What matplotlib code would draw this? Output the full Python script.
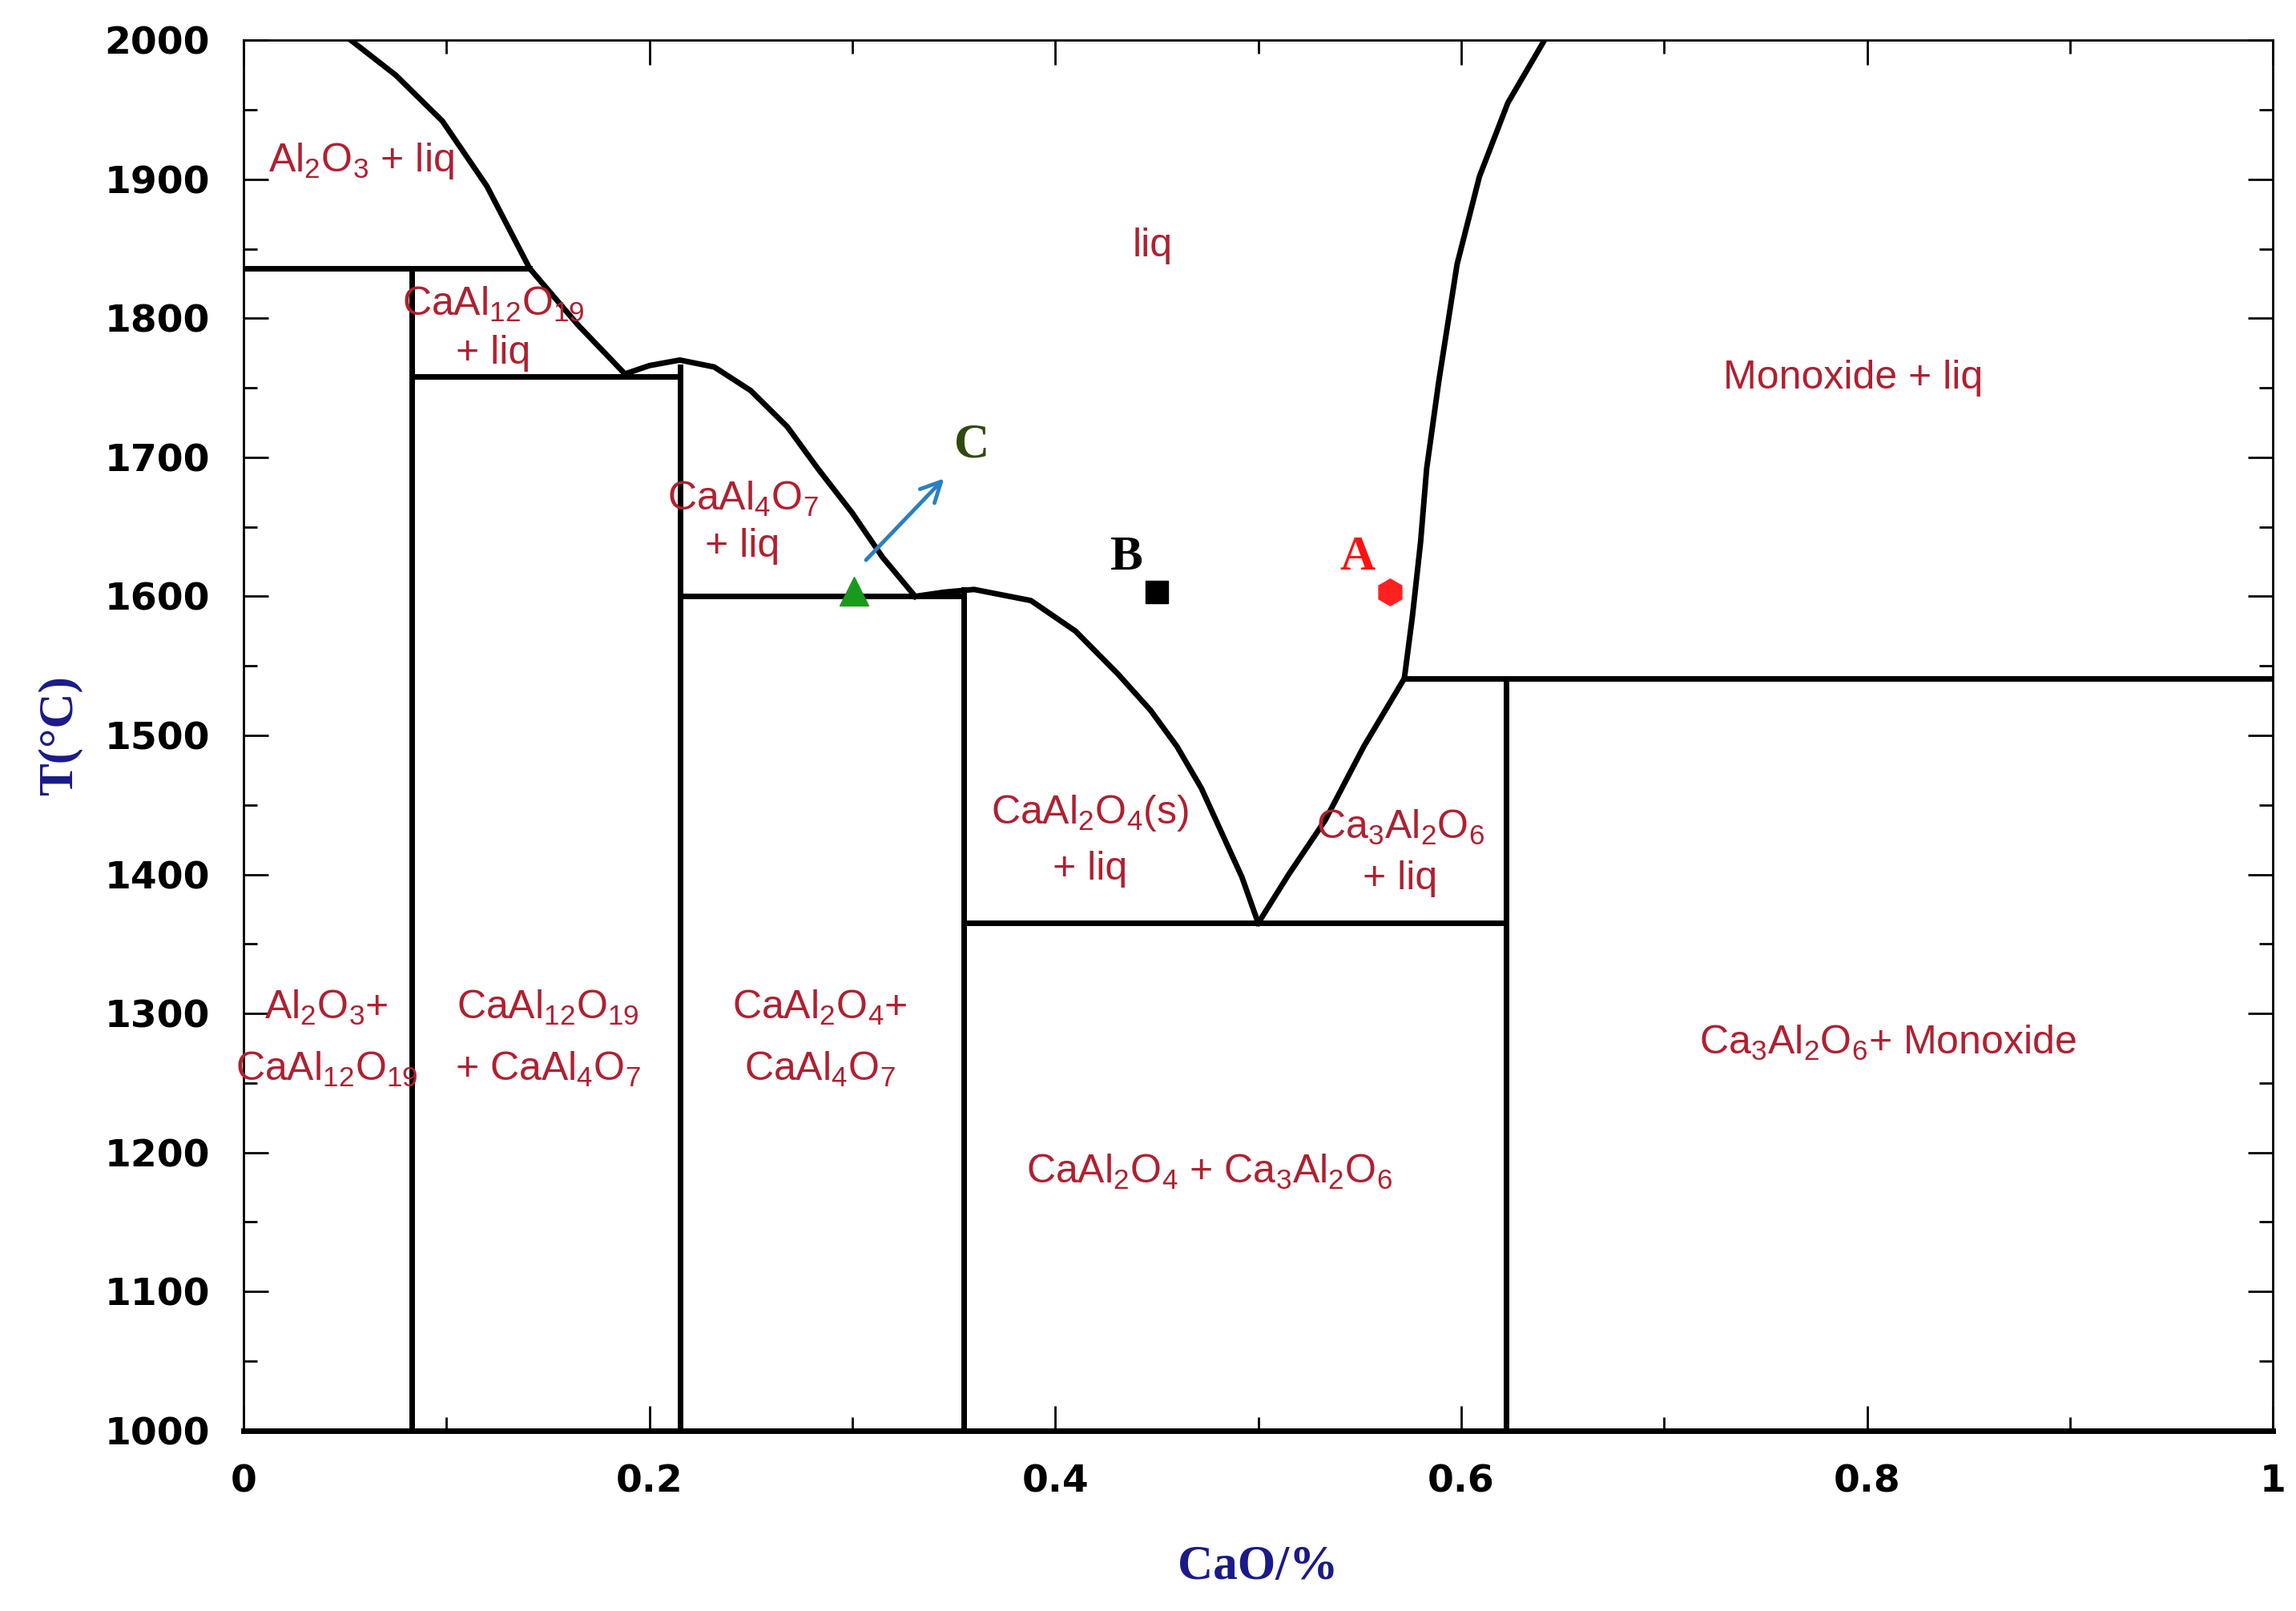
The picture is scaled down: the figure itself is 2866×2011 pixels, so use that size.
import matplotlib
matplotlib.use("Agg")
import matplotlib.pyplot as plt
from matplotlib.ticker import MultipleLocator

plt.rcParams["mathtext.fontset"] = "custom"
plt.rcParams["mathtext.rm"] = "Liberation Sans"
plt.rcParams["mathtext.it"] = "Liberation Sans"
plt.rcParams["mathtext.default"] = "rm"

# boundary curves (CaO fraction, T)
al2o3_liq_x = [0.053, 0.075, 0.098, 0.120, 0.141, 0.165, 0.188]
al2o3_liq_t = [2000, 1975, 1942, 1895, 1836, 1795, 1760]
ca4_liq_x = [0.188, 0.200, 0.215, 0.232, 0.250, 0.268, 0.283, 0.300, 0.315, 0.331]
ca4_liq_t = [1760, 1766, 1770, 1765, 1748, 1722, 1692, 1660, 1628, 1600]
ca2_liq_x = [0.331, 0.345, 0.360, 0.388, 0.410, 0.431, 0.447, 0.460, 0.472, 0.482, 0.492, 0.500]
ca2_liq_t = [1600, 1603, 1605, 1597, 1575, 1544, 1518, 1492, 1462, 1430, 1398, 1365]
ca3_liq_x = [0.500, 0.515, 0.533, 0.552, 0.572]
ca3_liq_t = [1365, 1400, 1439, 1492, 1541]
cao_liq_x = [0.572, 0.576, 0.580, 0.583, 0.589, 0.598, 0.609, 0.623, 0.641]
cao_liq_t = [1541, 1586, 1639, 1692, 1755, 1839, 1902, 1955, 2000]
# isotherms: (x_start, x_end, T)
hlines = [(0.0, 0.141, 1836), (0.083, 0.215, 1758), (0.215, 0.355, 1600),
          (0.355, 0.622, 1365), (0.572, 1.0, 1541)]
# verticals: (x, T_top)
vlines = [(0.083, 1836), (0.215, 1765), (0.355, 1605), (0.622, 1541)]

labels = [
    (0.058, 1913, r"Al$_2$O$_3$ + liq"),
    (0.448, 1852, "liq"),
    (0.793, 1757, "Monoxide + liq"),
    (0.123, 1810, r"CaAl$_{12}$O$_{19}$"), (0.123, 1775, "+ liq"),
    (0.246, 1670, r"CaAl$_4$O$_7$"), (0.246, 1636, "+ liq"),
    (0.417, 1444, r"CaAl$_2$O$_4$(s)"), (0.417, 1404, "+ liq"),
    (0.570, 1434, r"Ca$_3$Al$_2$O$_6$"), (0.570, 1397, "+ liq"),
    (0.041, 1304, r"Al$_2$O$_3$+"), (0.041, 1260, r"CaAl$_{12}$O$_{19}$"),
    (0.150, 1304, r"CaAl$_{12}$O$_{19}$"), (0.150, 1260, r"+ CaAl$_4$O$_7$"),
    (0.284, 1304, r"CaAl$_2$O$_4$+"), (0.284, 1260, r"CaAl$_4$O$_7$"),
    (0.476, 1186, r"CaAl$_2$O$_4$ + Ca$_3$Al$_2$O$_6$"),
    (0.810, 1279, r"Ca$_3$Al$_2$O$_6$+ Monoxide"),
]

fig = plt.figure(figsize=(28.66, 20.11), dpi=100)
ax = fig.add_axes([0.106, 0.112, 0.884, 0.863])
lw = 5
for xs, ts in [(al2o3_liq_x, al2o3_liq_t), (ca4_liq_x, ca4_liq_t), (ca2_liq_x, ca2_liq_t),
               (ca3_liq_x, ca3_liq_t), (cao_liq_x, cao_liq_t)]:
    ax.plot(xs, ts, color="black", lw=lw)
for x0, x1, t in hlines:
    ax.plot([x0, x1], [t, t], color="black", lw=lw)
for x, t in vlines:
    ax.plot([x, x], [1000, t], color="black", lw=lw)

red = "#b02030"
for x, t, s in labels:
    ax.text(x, t, s, color=red, fontsize=36, ha="center", va="center", family="Liberation Sans")

ax.plot([0.301], [1604], marker="^", color="#1a9a1a", ms=26)
ax.plot([0.450], [1603], marker="s", color="black", ms=20)
ax.plot([0.565], [1603], marker="h", color="#ff2020", ms=24)
ax.annotate("", xy=(0.346, 1686), xytext=(0.306, 1625),
            arrowprops=dict(arrowstyle="->", color="#2a7fc0", lw=3.5, mutation_scale=45))
ax.text(0.359, 1709, "C", color="#2e4a10", fontsize=44, fontweight="bold", family="Liberation Serif", ha="center", va="center")
ax.text(0.435, 1628, "B", color="black", fontsize=44, fontweight="bold", family="Liberation Serif", ha="center", va="center")
ax.text(0.549, 1628, "A", color="#ff1010", fontsize=44, fontweight="bold", family="Liberation Serif", ha="center", va="center")

ax.set_xlim(0, 1)
ax.set_ylim(1000, 2000)
ax.xaxis.set_major_locator(MultipleLocator(0.2))
ax.xaxis.set_minor_locator(MultipleLocator(0.1))
ax.yaxis.set_major_locator(MultipleLocator(100))
ax.yaxis.set_minor_locator(MultipleLocator(50))
ax.xaxis.set_major_formatter(plt.FuncFormatter(lambda v, p: f"{v:g}"))
ax.tick_params(which="both", direction="in", top=True, right=True, width=2)
ax.tick_params(which="major", length=22, labelsize=34, pad=30)
ax.tick_params(which="minor", length=12)
for lab in ax.get_xticklabels() + ax.get_yticklabels():
    lab.set_fontweight("bold")
    lab.set_family("Liberation Sans Narrow")
for sp in ax.spines.values():
    sp.set_linewidth(2)
ax.spines["bottom"].set_linewidth(5)
ax.set_xlabel("CaO/%", fontsize=44, fontweight="bold", color="#1a1a8a", family="Liberation Serif", labelpad=40)
ax.set_ylabel("T(\u00b0C)", fontsize=44, fontweight="bold", color="#1a1a8a", family="Liberation Serif", labelpad=20)
fig.savefig("out.png", dpi=100)
